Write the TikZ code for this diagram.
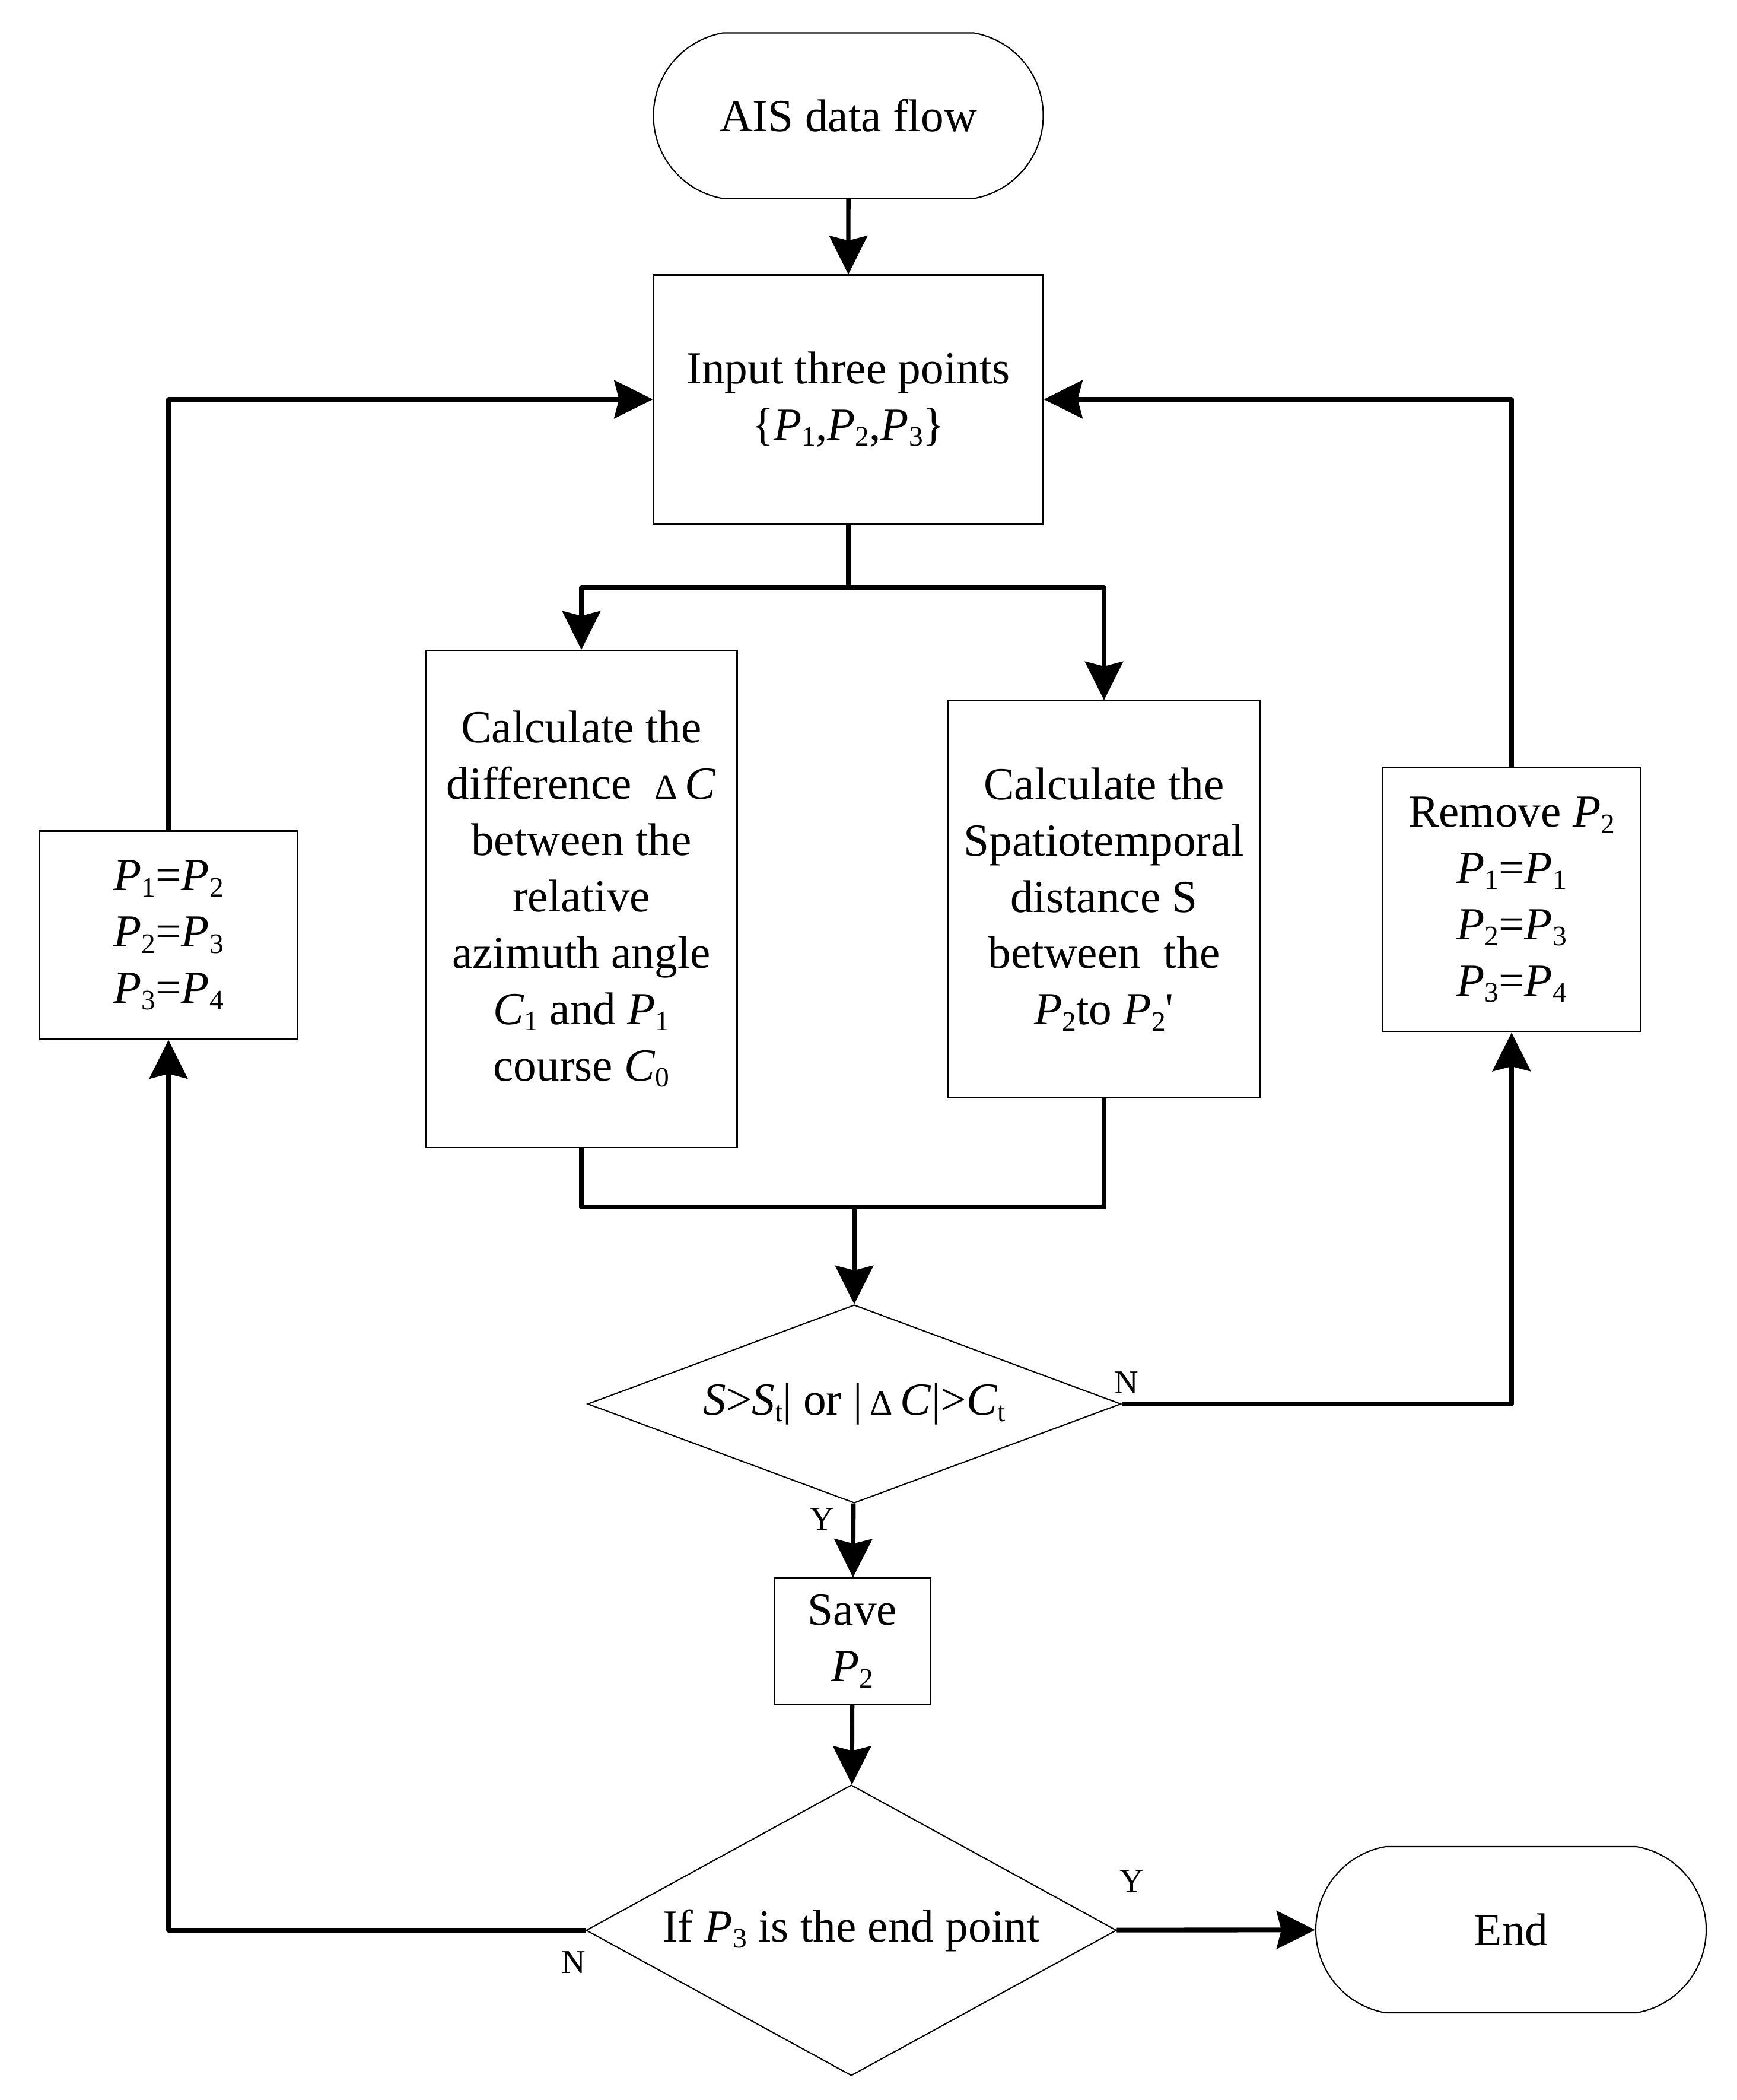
\documentclass[tikz,border=0pt]{standalone}
\usepackage{fontspec}
\setmainfont{Liberation Serif}
\usetikzlibrary{arrows.meta,shapes.geometric,shapes.misc}
\newcommand{\sv}[2]{\textit{#1}\raisebox{-3pt}{\fontsize{13.5}{13.5}\selectfont #2}}
\newcommand{\dlt}{{\fontsize{17}{17}\selectfont Δ}}

\begin{document}
\begin{tikzpicture}[
  txt/.style={font=\fontsize{22}{27}\selectfont, align=center, inner sep=0pt},
  box/.style={txt, draw, line width=0.6pt, rectangle},
  term/.style={txt, draw, line width=0.6pt, rounded rectangle, rounded rectangle arc length=160},
  cond/.style={txt, draw, line width=0.6pt, diamond},
  lbl/.style={font=\fontsize{16}{16}\selectfont, inner sep=0pt},
  flow/.style={->, line width=2.1pt, line join=round},
  loop/.style={->, line width=2.3pt, line join=round},
  >={Stealth[length=6.5mm,width=6.4mm,inset=0.8mm]}
]
\useasboundingbox (0,0) rectangle (29.28,-35.39);

\node[term, minimum width=6.57cm, minimum height=2.79cm] (start) at (14.30,-1.95) {AIS data flow};
\node[box, minimum width=6.57cm, minimum height=4.19cm] (input) at (14.30,-6.73) {Input three points\\\{\sv P1,\sv P2,\sv P3\}};

\node[box, minimum width=5.25cm, minimum height=8.38cm] (calcC) at (9.80,-15.15) {Calculate the\\difference \ \dlt\,\textit{C}\\between the\\relative\\azimuth angle\\\sv C1 and \sv P1\\course \sv C0};
\node[box, minimum width=5.26cm, minimum height=6.69cm] (calcS) at (18.61,-15.155) {Calculate the\\Spatiotemporal\\distance S\\between\ \ the\\\sv P2to \sv P2\textquotesingle};

\node[box, minimum width=4.34cm, minimum height=3.51cm] (update) at (2.84,-15.76) {\sv P1=\sv P2\\\sv P2=\sv P3\\\sv P3=\sv P4};
\node[box, minimum width=4.35cm, minimum height=4.46cm] (remove) at (25.48,-15.16) {Remove \sv P2\\\sv P1=\sv P1\\\sv P2=\sv P3\\\sv P3=\sv P4};

\node[cond, shape aspect=2.69, minimum width=8.99cm, minimum height=3.34cm] (check) at (14.40,-23.66) {\textit{S}>\sv St| or |\,\dlt\,\textit{C}|>\sv Ct};
\node[box, minimum width=2.64cm, minimum height=2.13cm] (save) at (14.37,-27.66) {Save\\\sv P2};
\node[cond, shape aspect=1.82, minimum width=8.94cm, minimum height=4.90cm] (endq) at (14.35,-32.53) {If \sv P3 is the end point};
\node[term, minimum width=6.58cm, minimum height=2.80cm] (finish) at (25.47,-32.52) {End};

\coordinate (split) at (14.30,-9.90);
\coordinate (merge) at (14.40,-20.34);

\draw[flow] (start) -- (input);
\draw[flow, -] (input) -- (split);
\draw[flow] (split) -| (calcC);
\draw[flow] (split) -| (calcS);
\draw[flow, -] (calcC) |- (merge);
\draw[flow, -] (calcS) |- (merge);
\draw[flow] (merge) -- (check);
\draw[flow] (check) -- (save);
\draw[flow] (save) -- (endq);

\draw[loop] (check) -| (remove);
\draw[loop] (remove) |- (input);
\draw[loop] (endq) -| (update);
\draw[loop] (update) |- (input);
\draw[loop] (endq) -- (finish);

\node[lbl] (n1) at (18.99,-23.30) {N};
\node[lbl] (y1) at (13.86,-25.60) {Y};
\node[lbl] (y2) at (19.08,-31.70) {Y};
\node[lbl] (n2) at (9.67,-33.07) {N};

\end{tikzpicture}
\end{document}
